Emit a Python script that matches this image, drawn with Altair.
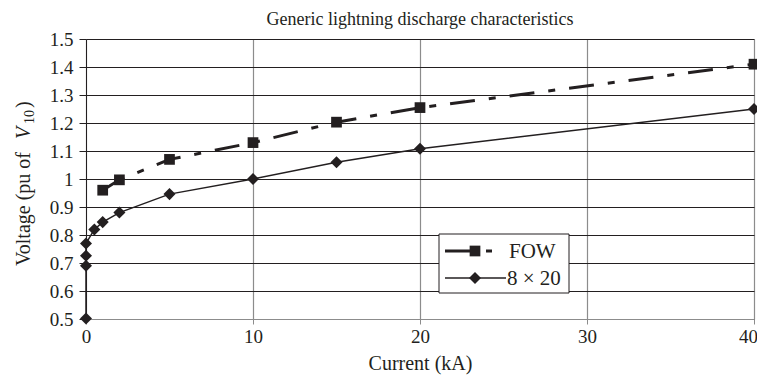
import altair as alt
import pandas as pd

# ---- data ----
fow_current = [1, 2, 5, 10, 15, 20, 40]
fow_voltage = [0.96, 0.997, 1.07, 1.13, 1.203, 1.255, 1.41]

w820_current = [0, 0, 0, 0, 0.5, 1, 2, 5, 10, 15, 20, 40]
w820_voltage = [0.502, 0.69, 0.726, 0.77, 0.82, 0.846, 0.88, 0.946, 1.0, 1.06, 1.108, 1.25]

x_ticks = [0, 10, 20, 30, 40]
y_ticks = [0.5, 0.6, 0.7, 0.8, 0.9, 1.0, 1.1, 1.2, 1.3, 1.4, 1.5]

series_names = ["FOW", "8 × 20"]

FONT = "Liberation Serif"
INK = "#231f20"
GRAY = "#8c8c8c"
FS = 19

fow = pd.DataFrame({"current": fow_current, "voltage": fow_voltage,
                    "idx": list(range(len(fow_current)))})
w820 = pd.DataFrame({"current": w820_current, "voltage": w820_voltage,
                     "idx": list(range(len(w820_current)))})

x_enc = alt.X("current:Q", scale=alt.Scale(domain=[0, 40], nice=False, zero=False),
              axis=alt.Axis(values=x_ticks, title="Current (kA)", grid=True,
                            gridColor=GRAY, gridWidth=1.2, domainColor=GRAY, tickColor=GRAY,
                            tickSize=5, labelPadding=3, titlePadding=7,
                            labelOffset={"condition": {"test": "datum.value == 40", "value": -6},
                                         "value": 0},
                            labelFont=FONT, labelFontSize=FS, labelColor=INK,
                            titleFont=FONT, titleFontSize=20, titleColor=INK,
                            titleFontWeight="normal", labelFlush=False))
y_enc = alt.Y("voltage:Q", scale=alt.Scale(domain=[0.5, 1.5], nice=False, zero=False),
              axis=alt.Axis(values=y_ticks, title=None, grid=True,
                            gridColor=INK, gridWidth=1.1, domainColor=INK, tickColor=INK,
                            tickSize=7, labelPadding=6,
                            labelExpr="format(datum.value, '.1~f')",
                            labelFont=FONT, labelFontSize=FS, labelColor=INK, labelFlush=False))
order_enc = alt.Order("idx:Q")

fow_line = alt.Chart(fow).mark_line(color=INK, strokeWidth=3, strokeDash=[25, 14, 7, 14]).encode(
    x=x_enc, y=y_enc, order=order_enc)
fow_pts = alt.Chart(fow).mark_point(shape="square", filled=True, size=115, color=INK, opacity=1).encode(
    x=x_enc, y=y_enc)
w_line = alt.Chart(w820).mark_line(color=INK, strokeWidth=1.5).encode(
    x=x_enc, y=y_enc, order=order_enc)
w_pts = alt.Chart(w820).mark_point(shape="diamond", filled=True, size=145, color=INK, opacity=1).encode(
    x=x_enc, y=y_enc)

one = pd.DataFrame({"k": [0]})
base = alt.Chart(one)

# legend box
leg_box = base.mark_rect(fill="white", stroke=INK, strokeWidth=1).encode(
    x=alt.value(353), x2=alt.value(483), y=alt.value(195), y2=alt.value(254))
leg_l1 = base.mark_rule(color=INK, strokeWidth=3).encode(
    x=alt.value(359), x2=alt.value(392), y=alt.value(212))
leg_l1b = base.mark_rule(color=INK, strokeWidth=3).encode(
    x=alt.value(400), x2=alt.value(406), y=alt.value(212))
leg_p1 = base.mark_point(shape="square", filled=True, size=115, color=INK, opacity=1).encode(
    x=alt.value(389), y=alt.value(212))
leg_l2 = base.mark_rule(color=INK, strokeWidth=1.5).encode(
    x=alt.value(359), x2=alt.value(420), y=alt.value(239))
leg_p2 = base.mark_point(shape="diamond", filled=True, size=145, color=INK, opacity=1).encode(
    x=alt.value(389), y=alt.value(239))
leg_t1 = base.mark_text(text=series_names[0], align="left", baseline="middle", font=FONT,
                        fontSize=21, color=INK).encode(x=alt.value(423), y=alt.value(213))
leg_t2 = base.mark_text(text=series_names[1], align="left", baseline="middle", font=FONT,
                        fontSize=21, color=INK).encode(x=alt.value(421), y=alt.value(240))

# y-axis title pieces (rotated)
yt1 = base.mark_text(text="Voltage (pu of", angle=270, align="right", baseline="alphabetic",
                     font=FONT, fontSize=20, color=INK).encode(x=alt.value(-56), y=alt.value(113))
yt2 = base.mark_text(text="V", angle=270, align="left", baseline="alphabetic", fontStyle="italic",
                     font=FONT, fontSize=20, color=INK).encode(x=alt.value(-56), y=alt.value(100))
yt3 = base.mark_text(text="10", angle=270, align="left", baseline="alphabetic",
                     font=FONT, fontSize=14, color=INK).encode(x=alt.value(-52), y=alt.value(85))
yt4 = base.mark_text(text=")", angle=270, align="left", baseline="alphabetic",
                     font=FONT, fontSize=20, color=INK).encode(x=alt.value(-56), y=alt.value(69))

chart = alt.layer(
    w_line, fow_line, w_pts, fow_pts,
    leg_box, leg_l1, leg_l1b, leg_p1, leg_l2, leg_p2, leg_t1, leg_t2,
    yt1, yt2, yt3, yt4,
).properties(
    width=668, height=280,
    title=alt.TitleParams("Generic lightning discharge characteristics", font=FONT,
                          fontSize=18, fontWeight="normal", color=INK, anchor="middle", offset=1),
    autosize=alt.AutoSizeParams(type="none"),
    padding={"left": 78, "top": 31, "right": 3, "bottom": 56},
).configure_view(stroke="#555555", strokeWidth=1.2).configure(background="white")

chart.save("out.html", embed_options={"renderer": "svg", "actions": False})
